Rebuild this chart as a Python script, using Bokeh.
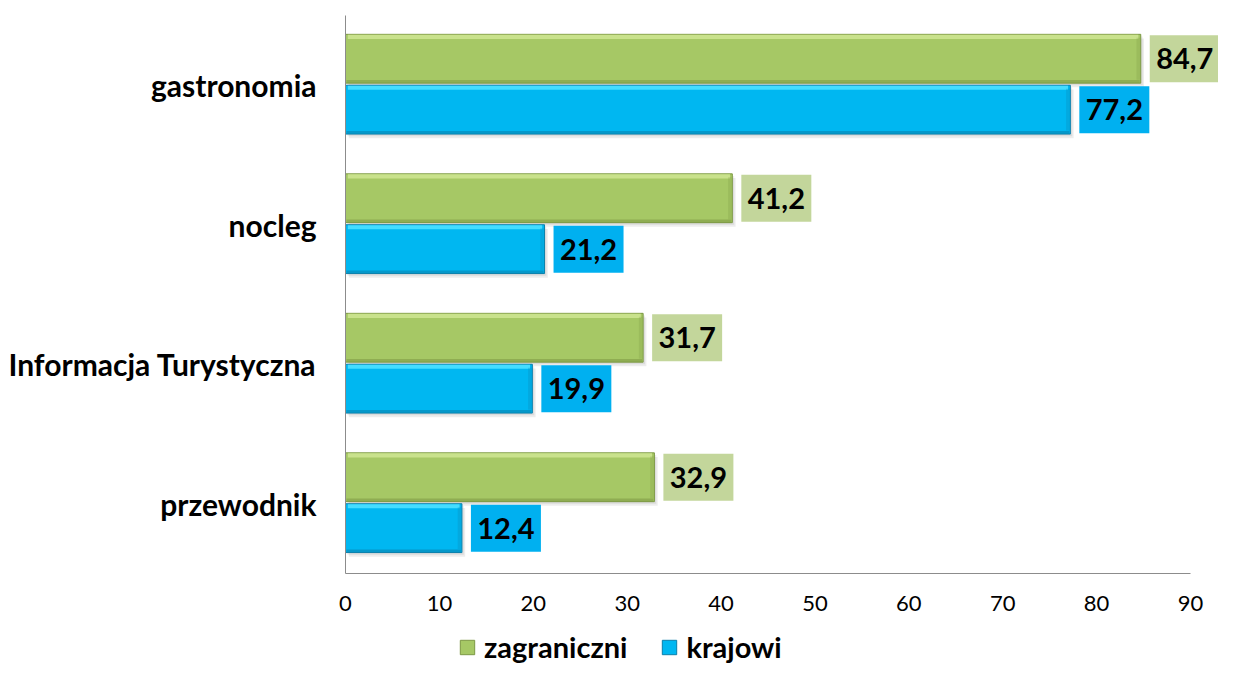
from bokeh.plotting import figure
from bokeh.layouts import column
from bokeh.models import ColumnDataSource, FactorRange, Range1d, Legend, LegendItem, FixedTicker
from bokeh.core.properties import value
from bokeh.transform import dodge
from bokeh.embed import file_html
from bokeh.resources import INLINE

categories = ["gastronomia", "nocleg", "Informacja Turystyczna", "przewodnik"]
zagraniczni = [84.7, 41.2, 31.7, 32.9]
krajowi = [77.2, 21.2, 19.9, 12.4]
x_ticks = [0, 10, 20, 30, 40, 50, 60, 70, 80, 90]
series_names = ["zagraniczni", "krajowi"]

FONT = "Lato"
G_MAIN, G_HI, G_DARK, G_BOX = "#A6C865", "#C9E28C", "#7C9844", "#C3D69B"
B_MAIN, B_HI, B_DARK, B_BOX = "#00B7F1", "#45DDFF", "#0A7FAA", "#00B0F0"

def lab(v):
    return f"{v:.1f}".replace(".", ",")

src = ColumnDataSource(dict(
    cat=categories,
    zag=zagraniczni,
    kra=krajowi,
    zag_lab=[lab(v) for v in zagraniczni],
    kra_lab=[lab(v) for v in krajowi],
))

W = 1218
LEG_H = 38
HGT = 664 - LEG_H
LEFT, TOP = 345, 15
BOTTOM = HGT - 573
FRAME_W = W - LEFT
PXU = 9.389                    # pixels per data unit
X_END = FRAME_W / PXU
PX = 1 / PXU                   # data units per pixel

p = figure(width=W, height=HGT, output_backend="svg", toolbar_location=None,
           y_range=FactorRange(factors=categories[::-1], range_padding=0),
           x_range=Range1d(0, X_END),
           min_border_left=LEFT, min_border_right=0, min_border_top=TOP, min_border_bottom=BOTTOM)
p.outline_line_color = None
p.grid.grid_line_color = None
p.background_fill_color = "white"

H = 0.35
OFF_G, OFF_B = 0.19, -0.175

# shadows
for col, off in (("zag", OFF_G), ("kra", OFF_B)):
    p.hbar(y=dodge("cat", off - 0.03, range=p.y_range), right=dodge(col, 0.35), left=0.35, height=H,
           fill_color="black", fill_alpha=0.07, line_color=None, source=src)
    p.hbar(y=dodge("cat", off - 0.015, range=p.y_range), right=dodge(col, 0.2), left=0.2, height=H,
           fill_color="black", fill_alpha=0.07, line_color=None, source=src)

rg = p.hbar(y=dodge("cat", OFF_G, range=p.y_range), right="zag", left=0, height=H,
            fill_color=G_MAIN, line_color=G_DARK, line_width=1, source=src)
rb = p.hbar(y=dodge("cat", OFF_B, range=p.y_range), right="kra", left=0, height=H,
            fill_color=B_MAIN, line_color=B_DARK, line_width=1, source=src)

# bevel highlights / darker bottom / right edge
for col, off, hi, dk in (("zag", OFF_G, G_HI, G_DARK), ("kra", OFF_B, B_HI, B_DARK)):
    p.hbar(y=dodge("cat", off + H / 2 - 0.018, range=p.y_range), right=dodge(col, -0.25), left=0.25,
           height=0.03, fill_color=hi, line_color=None, source=src)
    p.hbar(y=dodge("cat", off - H / 2 + 0.012, range=p.y_range), right=dodge(col, -0.1), left=0.1,
           height=0.02, fill_color=dk, fill_alpha=0.55, line_color=None, source=src)
    p.hbar(y=dodge("cat", off, range=p.y_range), right=dodge(col, -0.08), left=dodge(col, -0.45),
           height=H - 0.05, fill_color=dk, fill_alpha=0.25, line_color=None, source=src)

# value label boxes
GAP, BOXW, BOXH = 9, 70, 0.337
shift = (GAP + BOXW / 2) * PX
for col, labcol, off, boxc in (("zag", "zag_lab", OFF_G, G_BOX), ("kra", "kra_lab", OFF_B, B_BOX)):
    p.rect(x=dodge(col, shift), y=dodge("cat", off, range=p.y_range), width=BOXW, width_units="screen",
           height=BOXH, fill_color=boxc, line_color=None, source=src)
    p.text(x=dodge(col, shift), y=dodge("cat", off, range=p.y_range), text=labcol, source=src,
           text_align="center", text_baseline="middle", text_font=value(FONT),
           text_font_style="bold", text_font_size="29px", text_color="black")

xa = p.xaxis[0]
xa.bounds = (0, 90)
xa.ticker = FixedTicker(ticks=x_ticks)
xa.axis_line_color = "#8C8C8C"
xa.major_tick_line_color = None
xa.minor_tick_line_color = None
xa.major_tick_out = 0
xa.major_tick_in = 0
xa.major_label_text_font = FONT
xa.major_label_text_font_size = "22px"
xa.major_label_text_color = "black"
xa.major_label_standoff = 22

ya = p.yaxis[0]
ya.axis_line_color = "#8C8C8C"
ya.major_tick_line_color = None
ya.minor_tick_line_color = None
ya.major_tick_out = 0
ya.major_tick_in = 0
ya.major_label_text_font = FONT
ya.major_label_text_font_style = "bold"
ya.major_label_text_font_size = "30px"
ya.major_label_text_color = "black"
ya.major_label_standoff = 29

# legend strip below the chart (its frame is aligned with the chart's frame)
pl = figure(width=W, height=LEG_H, output_backend="svg", toolbar_location=None,
            x_range=Range1d(0, 1), y_range=Range1d(0, 1),
            min_border_left=0, min_border_right=0, min_border_top=0, min_border_bottom=0)
pl.axis.visible = False
pl.grid.grid_line_color = None
pl.outline_line_color = None
# swatch renderers kept outside the visible range; only their legend icons show
lg_g = pl.hbar(y=[5], left=[5], right=[6], height=1, fill_color=G_MAIN, line_color=G_DARK)
lg_b = pl.hbar(y=[5], left=[5], right=[6], height=1, fill_color=B_MAIN, line_color=B_DARK)
legend = Legend(items=[LegendItem(label=series_names[0], renderers=[lg_g]),
                       LegendItem(label=series_names[1], renderers=[lg_b])],
                orientation="horizontal", location=(458 - LEFT, 0),
                label_text_font=FONT, label_text_font_style="bold", label_text_font_size="29px",
                label_text_color="black",
                glyph_width=18, glyph_height=18, label_standoff=8, spacing=33,
                padding=0, margin=0,
                border_line_color=None, background_fill_alpha=0)
pl.add_layout(legend)

layout = column(p, pl, spacing=0)
open("out.html", "w").write(file_html(layout, INLINE))
